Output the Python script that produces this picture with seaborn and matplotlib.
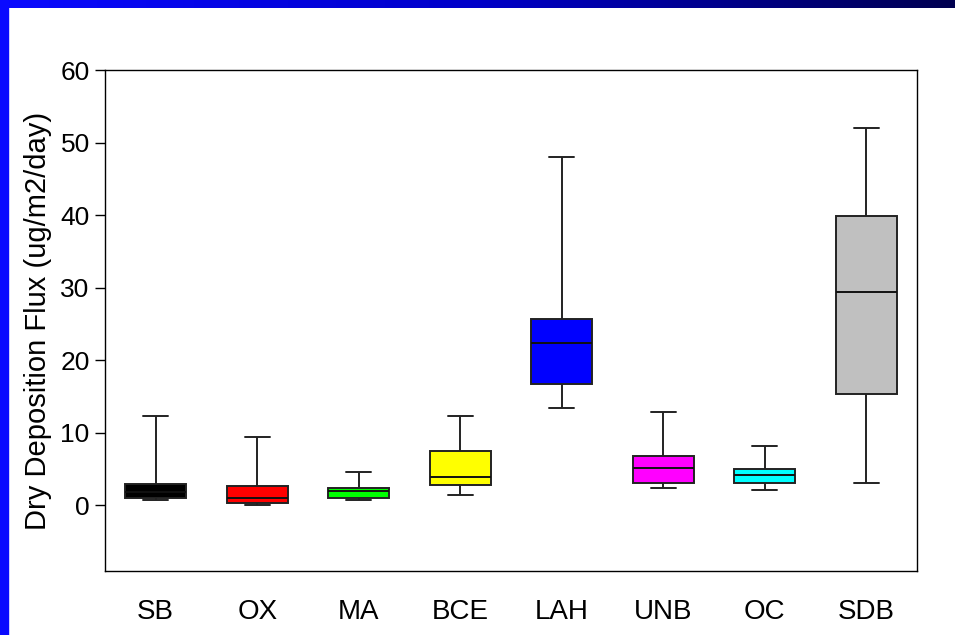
import numpy as np
import pandas as pd
import matplotlib
import matplotlib.pyplot as plt
import seaborn as sns

# five-number summaries: min, q1, median, q3, max
sites = ["SB", "OX", "MA", "BCE", "LAH", "UNB", "OC", "SDB"]
mins = [0.7, 0.0, 0.65, 1.4, 13.4, 2.3, 2.1, 3.1]
q1s = [0.9, 0.3, 0.9, 2.8, 16.7, 3.1, 3.1, 15.3]
medians = [1.8, 0.9, 2.0, 3.9, 22.4, 5.1, 4.2, 29.4]
q3s = [2.9, 2.6, 2.3, 7.5, 25.6, 6.8, 4.9, 39.8]
maxs = [12.3, 9.4, 4.6, 12.3, 48.0, 12.8, 8.1, 52.0]
colors = ["#000000", "#ff0000", "#00ff00", "#ffff00", "#0000ff", "#ff00ff", "#00ffff", "#c0c0c0"]

# five points per site -> linear quartiles land exactly on q1/median/q3
rows = []
for i, s in enumerate(sites):
    for v in [mins[i], q1s[i], medians[i], q3s[i], maxs[i]]:
        rows.append({"site": s, "flux": v})
df = pd.DataFrame(rows)

sns.set_style("white")
plt.rcParams['font.family'] = ['Liberation Sans', 'DejaVu Sans']
plt.rcParams['text.color'] = 'black'
plt.rcParams['axes.labelcolor'] = 'black'
plt.rcParams['xtick.color'] = 'black'
plt.rcParams['ytick.color'] = 'black'

fig = plt.figure(figsize=(9.55, 6.35), dpi=100)
ax = fig.add_axes([105 / 955, 1 - 571 / 635, 812 / 955, 501 / 635])

sns.boxplot(data=df, x="site", y="flux", hue="site", palette=colors, legend=False,
            order=sites, whis=np.inf, width=0.6, linewidth=1.4, linecolor="#222222",
            saturation=1,
            medianprops={"color": "#111111", "linewidth": 1.4},
            capwidths=0.25, ax=ax)

ax.set_xlim(-0.5, 7.5)
ax.set_ylim(-9.1, 60)
ax.set_yticks([0, 10, 20, 30, 40, 50, 60])
ax.set_xlabel("")
ax.set_ylabel("Dry Deposition Flux (ug/m2/day)", fontsize=21, labelpad=6)
ax.tick_params(axis="y", direction="out", length=7, width=1, color="black",
               labelsize=19, pad=4, left=True)
ax.tick_params(axis="x", length=0, labelsize=20, pad=20)
for sp in ax.spines.values():
    sp.set_visible(True)
    sp.set_color("black")
    sp.set_linewidth(1.0)

# slide frame: blue band at the left, blue-to-navy band along the top
fig.patches.append(matplotlib.patches.Rectangle((0, 0), 8 / 955, 1, transform=fig.transFigure,
                                                color="#0a0aff", zorder=0))
band = fig.add_axes([0, 1 - 8 / 635, 1, 8 / 635])
grad = np.linspace(0, 1, 256).reshape(1, -1)
cmap = matplotlib.colors.LinearSegmentedColormap.from_list("band", ["#0a0aff", "#0000c8", "#000050"])
band.imshow(grad, aspect="auto", cmap=cmap)
band.axis("off")

fig.savefig("out.png", dpi=100)
